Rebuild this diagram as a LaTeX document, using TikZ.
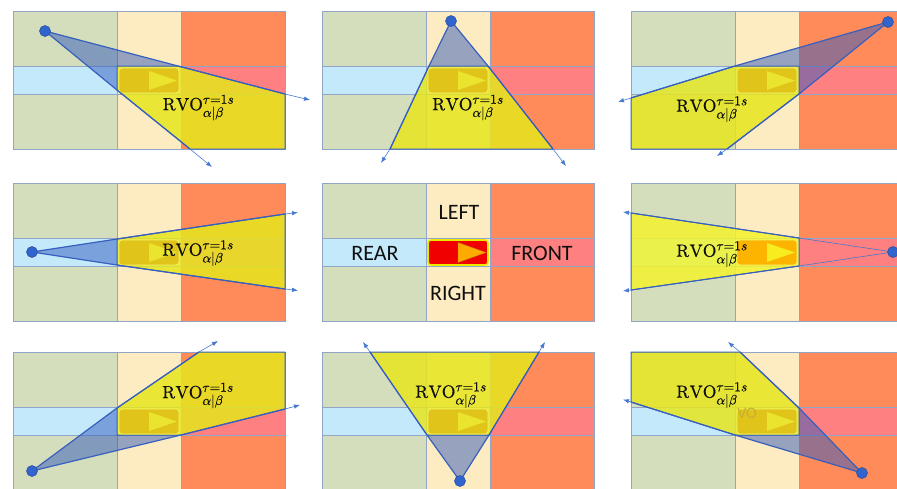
\documentclass[tikz,border=0pt]{standalone}
\usepackage{fontspec}
\usepackage{unicode-math}
\setmathfont{Latin Modern Math}[FakeBold=0.7]
\newfontfamily\carlito{Carlito}
\DeclareMathSizes{17.5}{17.5}{13.5}{10}
\usetikzlibrary{arrows.meta,calc}
\definecolor{cgreen}{RGB}{212,222,188}
\definecolor{ccream}{RGB}{253,235,194}
\definecolor{corange}{RGB}{255,139,90}
\definecolor{cltblue}{RGB}{196,233,250}
\definecolor{cpink}{RGB}{255,128,128}
\definecolor{cgrid}{RGB}{145,165,200}
\definecolor{cedge}{RGB}{55,95,190}
\definecolor{carrow}{RGB}{70,120,210}
\definecolor{cdot}{RGB}{50,100,205}
\definecolor{ccone}{RGB}{50,90,190}
\definecolor{cyel}{RGB}{230,230,30}
\definecolor{cyelb}{RGB}{243,243,45}
\definecolor{cghostA}{RGB}{224,196,26}
\definecolor{cghostB}{RGB}{234,228,46}
\definecolor{cghostC}{RGB}{252,180,0}
\definecolor{cghostD}{RGB}{246,236,30}
\definecolor{ccarred}{RGB}{240,0,0}
\definecolor{ccartri}{RGB}{255,170,0}
\definecolor{ccarrim}{RGB}{235,235,0}
\definecolor{cvo}{RGB}{196,176,52}
\definecolor{ctext}{RGB}{15,15,15}
\newcommand\lanegrid{%
  \fill[cgreen] (0,0) rectangle (104,138);
  \fill[ccream] (104,0) rectangle (168,138);
  \fill[corange] (168,0) rectangle (272,138);
  \fill[cltblue] (0,55) rectangle (104,83);
  \fill[cpink] (168,55) rectangle (272,83);
  \draw[gridline] (0,0) rectangle (272,138) (104,0) -- (104,138) (168,0) -- (168,138)
     (0,55) -- (272,55) (0,83) -- (272,83);}
\newcommand\ghostcar[2]{%
  \filldraw[fill=#1, draw=ccarrim!60!white, line width=0.8pt, rounded corners=3pt] (106,57) rectangle (166,82);
  \fill[#2] (136,60) -- (164,69.5) -- (136,79) -- cycle;}
\newcommand\rvotext{$\symup{RVO}^{\tau=1s}_{\alpha|\beta}$}
\begin{document}
\begin{tikzpicture}[x=1pt, y=-1pt,
  gridline/.style={draw=cgrid, line width=0.8pt},
  conefill/.style={fill=ccone, fill opacity=0.5},
  rvo/.style={fill=cyel, fill opacity=0.85, draw=cedge, line width=1pt, line join=round},
  coneedge/.style={draw=cedge, line width=1.2pt, line join=round},
  thinedge/.style={draw=carrow, line width=0.6pt},
  ray/.style={draw=carrow, line width=0.6pt, -{Latex[length=6pt,width=4.5pt]}},
  agent/.style={circle, fill=cdot, draw=cdot!75!black, line width=0.5pt, minimum size=11pt, inner sep=0pt},
  rvolabel/.style={inner sep=0pt, text=ctext, font=\fontsize{17.5}{18}\selectfont},
  zonelabel/.style={inner sep=0pt, text=ctext, font=\carlito\fontsize{22}{22}\selectfont}]
\path[use as bounding box] (0,0) rectangle (897,488);
\clip (0,0) rectangle (897,488);

% ---------- panel 1 (top left)
\begin{scope}[shift={(13,11)}]
  \lanegrid
  \coordinate (p1D) at (32,20);
  \coordinate (p1a) at (165,55);
  \coordinate (p1b) at (272,83);
  \coordinate (p1c) at (104,79);
  \coordinate (p1d) at (177,138);
  \coordinate (p1ta) at (297,89);
  \coordinate (p1tb) at (199,156);
  \fill[conefill] (p1D) -- (p1a) -- (104,55) -- (p1c) -- cycle;
  \path[rvo] (104,55) -- (p1a) -- (p1b) -- (272,138) -- (p1d) -- (p1c) -- cycle;
  \ghostcar{cghostA}{cghostB}
  \draw[ray] (p1b) -- (p1ta);
  \draw[ray] (p1d) -- (p1tb);
  \draw[coneedge] (p1D) -- (p1a) -- (p1b) (p1D) -- (p1c) -- (p1d);
  \node[agent] (p1agent) at (p1D) {};
  \node[rvolabel] (p1label) at (185.5,96.5) {\rvotext};
\end{scope}

% ---------- panel 2 (top middle)
\begin{scope}[shift={(322,11)}]
  \lanegrid
  \coordinate (p2D) at (129,10);
  \coordinate (p2a) at (107,55);
  \coordinate (p2b) at (166,55);
  \coordinate (p2c) at (68,138);
  \coordinate (p2d) at (231,138);
  \coordinate (p2ta) at (59,152);
  \coordinate (p2tb) at (244,155);
  \fill[conefill] (p2D) -- (p2a) -- (p2b) -- cycle;
  \path[rvo] (p2a) -- (p2b) -- (p2d) -- (p2c) -- cycle;
  \ghostcar{cghostA}{cghostB}
  \draw[ray] (p2c) -- (p2ta);
  \draw[ray] (p2d) -- (p2tb);
  \draw[coneedge] (p2D) -- (p2a) -- (p2c) (p2D) -- (p2b) -- (p2d);
  \node[agent] (p2agent) at (p2D) {};
  \node[rvolabel] (p2label) at (146,96.5) {\rvotext};
\end{scope}

% ---------- panel 3 (top right)
\begin{scope}[shift={(631,11)}]
  \lanegrid
  \coordinate (p3D) at (257,11);
  \coordinate (p3a) at (104,55);
  \coordinate (p3b) at (0,87);
  \coordinate (p3c) at (168,83);
  \coordinate (p3d) at (96,138);
  \coordinate (p3ta) at (-13,91);
  \coordinate (p3tb) at (86,145);
  \fill[conefill] (p3D) -- (p3a) -- (168,55) -- (p3c) -- cycle;
  \path[rvo] (p3a) -- (168,55) -- (p3c) -- (p3d) -- (0,138) -- (p3b) -- cycle;
  \ghostcar{cghostA}{cghostB}
  \draw[ray] (p3b) -- (p3ta);
  \draw[ray] (p3d) -- (p3tb);
  \draw[coneedge] (p3D) -- (p3a) -- (p3b) (p3D) -- (p3c) -- (p3d);
  \node[agent] (p3agent) at (p3D) {};
  \node[rvolabel] (p3label) at (81,98) {\rvotext};
\end{scope}

% ---------- panel 4 (middle left)
\begin{scope}[shift={(13,183)}]
  \lanegrid
  \coordinate (p4D) at (19,69);
  \coordinate (p4a) at (104,56);
  \coordinate (p4b) at (272,31);
  \coordinate (p4c) at (104,82);
  \coordinate (p4d) at (272,106);
  \coordinate (p4ta) at (285,29.5);
  \coordinate (p4tb) at (285,107.5);
  \fill[conefill] (p4D) -- (p4a) -- (p4c) -- cycle;
  \path[rvo] (p4a) -- (p4b) -- (p4d) -- (p4c) -- cycle;
  \ghostcar{cghostA}{cghostB}
  \draw[ray] (p4b) -- (p4ta);
  \draw[ray] (p4d) -- (p4tb);
  \draw[coneedge] (p4D) -- (p4a) -- (p4b) (p4D) -- (p4c) -- (p4d);
  \node[agent] (p4agent) at (p4D) {};
  \node[rvolabel] (p4label) at (185,70) {\rvotext};
\end{scope}

% ---------- panel 5 (centre, legend)
\begin{scope}[shift={(322,183)}]
  \lanegrid
  \filldraw[fill=ccarred, draw=ccarrim, line width=1.6pt, rounded corners=3pt] (106,57) rectangle (166,82);
  \filldraw[fill=ccartri, draw=ccartri!75!black, line width=0.4pt] (136,59.5) -- (164,69.5) -- (136,79.5) -- cycle;
  \node[zonelabel] (left)  at (137,29)  {LEFT};
  \node[zonelabel] (rear)  at (53,70)   {REAR};
  \node[zonelabel] (front) at (220,70)  {FRONT};
  \node[zonelabel] (right) at (136,110) {RIGHT};
\end{scope}

% ---------- panel 6 (middle right)
\begin{scope}[shift={(631,183)}]
  \lanegrid
  \coordinate (p6D) at (262,69);
  \coordinate (p6a) at (168,55);
  \coordinate (p6b) at (0,30);
  \coordinate (p6c) at (168,83);
  \coordinate (p6d) at (0,107);
  \coordinate (p6ta) at (-8,29);
  \coordinate (p6tb) at (-8,108);
  \path[rvo, fill=cyelb] (p6a) -- (p6b) -- (p6d) -- (p6c) -- cycle;
  \ghostcar{cghostC}{cghostD}
  \draw[ray] (p6b) -- (p6ta);
  \draw[ray] (p6d) -- (p6tb);
  \draw[thinedge] (p6D) -- (p6a) (p6D) -- (p6c);
  \draw[coneedge, line width=1pt] (p6a) -- (p6b) (p6c) -- (p6d);
  \node[agent] (p6agent) at (p6D) {};
  \node[rvolabel] (p6label) at (81,71) {\rvotext};
\end{scope}

% ---------- panel 7 (bottom left)
\begin{scope}[shift={(13,352)}]
  \lanegrid
  \coordinate (p7D) at (19,119);
  \coordinate (p7a) at (104,56);
  \coordinate (p7b) at (186,0);
  \coordinate (p7c) at (168,83);
  \coordinate (p7d) at (272,57);
  \coordinate (p7ta) at (205,-11);
  \coordinate (p7tb) at (287,53);
  \fill[conefill] (p7D) -- (p7a) -- (104,83) -- (p7c) -- cycle;
  \path[rvo] (p7a) -- (p7b) -- (272,0) -- (p7d) -- (p7c) -- (104,83) -- cycle;
  \ghostcar{cghostA}{cghostB}
  \draw[ray] (p7b) -- (p7ta);
  \draw[ray] (p7d) -- (p7tb);
  \draw[coneedge] (p7D) -- (p7a) -- (p7b) (p7D) -- (p7c) -- (p7d);
  \node[agent] (p7agent) at (p7D) {};
  \node[rvolabel] (p7label) at (185,43.5) {\rvotext};
\end{scope}

% ---------- panel 8 (bottom middle)
\begin{scope}[shift={(322,352)}]
  \lanegrid
  \coordinate (p8D) at (138,129);
  \coordinate (p8a) at (105,83);
  \coordinate (p8b) at (48,0);
  \coordinate (p8c) at (167,83);
  \coordinate (p8d) at (217,0);
  \coordinate (p8ta) at (41,-10);
  \coordinate (p8tb) at (223,-10);
  \fill[conefill] (p8D) -- (p8a) -- (p8c) -- cycle;
  \path[rvo] (p8a) -- (p8b) -- (p8d) -- (p8c) -- cycle;
  \ghostcar{cghostA}{cghostB}
  \draw[ray] (p8b) -- (p8ta);
  \draw[ray] (p8d) -- (p8tb);
  \draw[coneedge] (p8D) -- (p8a) -- (p8b) (p8D) -- (p8c) -- (p8d);
  \node[agent] (p8agent) at (p8D) {};
  \node[rvolabel] (p8label) at (129,43) {\rvotext};
\end{scope}

% ---------- panel 9 (bottom right)
\begin{scope}[shift={(631,352)}]
  \lanegrid
  \coordinate (p9D) at (231,121);
  \coordinate (p9a) at (168,56);
  \coordinate (p9b) at (109,0);
  \coordinate (p9c) at (104,83);
  \coordinate (p9d) at (0,50);
  \coordinate (p9ta) at (97,-10);
  \coordinate (p9tb) at (-8,47.5);
  \fill[conefill] (p9D) -- (p9a) -- (168,83) -- (p9c) -- cycle;
  \path[rvo] (0,0) -- (p9b) -- (p9a) -- (168,83) -- (p9c) -- (p9d) -- cycle;
  \ghostcar{cghostA}{cghostB}
  \node[inner sep=0pt, text=cvo, font=\carlito\fontsize{16}{16}\selectfont] (p9vo) at (116,61) {VO};
  \draw[ray] (p9b) -- (p9ta);
  \draw[ray] (p9d) -- (p9tb);
  \draw[coneedge] (p9D) -- (p9a) -- (p9b) (p9D) -- (p9c) -- (p9d);
  \node[agent] (p9agent) at (p9D) {};
  \node[rvolabel] (p9label) at (81,43) {\rvotext};
\end{scope}
\end{tikzpicture}
\end{document}
